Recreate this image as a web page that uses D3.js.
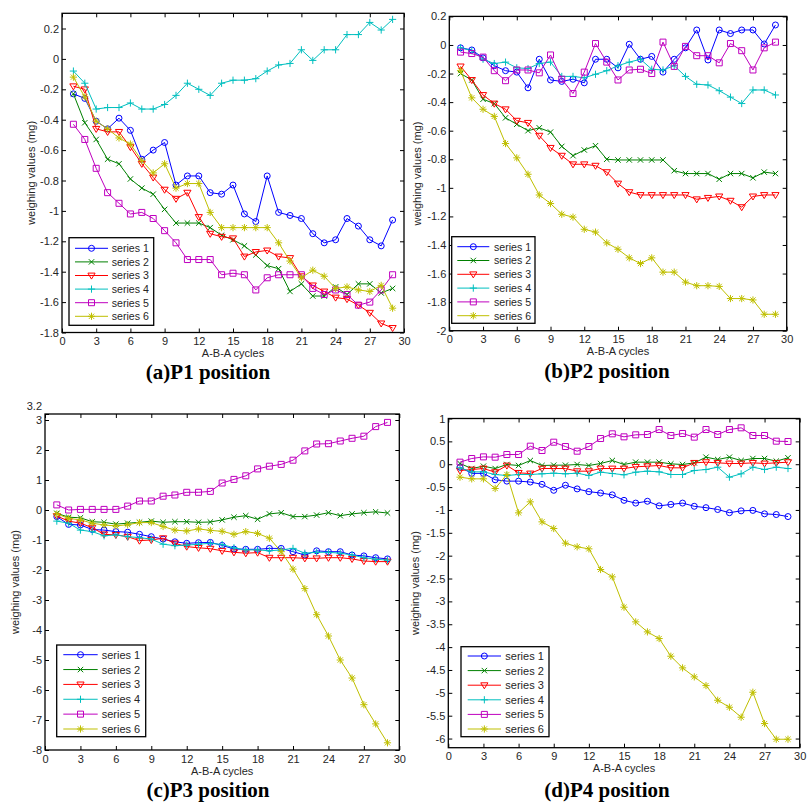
<!DOCTYPE html>
<html><head><meta charset="utf-8">
<script src="https://cdn.jsdelivr.net/npm/d3@7"></script>
<style>body{margin:0;background:#fff}svg{display:block}</style>
</head><body>
<script>
// ---------- data ----------
const cycles = [1,2,3,4,5,6,7,8,9,10,11,12,13,14,15,16,17,18,19,20,21,22,23,24,25,26,27,28,29];
const seriesNames = ["series 1","series 2","series 3","series 4","series 5","series 6"];
const xTickValues = [0,3,6,9,12,15,18,21,24,27,30];

// (a) P1
const p1s1 = [-0.23,-0.26,-0.41,-0.46,-0.39,-0.47,-0.66,-0.60,-0.55,-0.83,-0.77,-0.77,-0.88,-0.89,-0.83,-1.02,-1.07,-0.77,-1.01,-1.03,-1.05,-1.15,-1.21,-1.19,-1.05,-1.10,-1.19,-1.23,-1.06];
const p1s2 = [-0.23,-0.42,-0.53,-0.66,-0.69,-0.79,-0.85,-0.89,-0.99,-1.08,-1.08,-1.08,-1.11,-1.16,-1.19,-1.23,-1.29,-1.36,-1.38,-1.53,-1.48,-1.56,-1.56,-1.50,-1.55,-1.48,-1.48,-1.54,-1.51];
const p1s3 = [-0.18,-0.20,-0.46,-0.48,-0.48,-0.58,-0.69,-0.78,-0.86,-0.92,-0.88,-1.04,-1.15,-1.17,-1.18,-1.30,-1.27,-1.26,-1.30,-1.31,-1.43,-1.49,-1.53,-1.57,-1.58,-1.62,-1.67,-1.74,-1.77];
const p1s4 = [-0.08,-0.16,-0.33,-0.32,-0.32,-0.29,-0.33,-0.33,-0.30,-0.24,-0.16,-0.20,-0.24,-0.16,-0.14,-0.14,-0.13,-0.08,-0.04,-0.03,0.06,-0.01,0.06,0.06,0.16,0.16,0.24,0.19,0.26];
const p1s5 = [-0.43,-0.53,-0.72,-0.88,-0.95,-1.02,-1.01,-1.05,-1.13,-1.21,-1.32,-1.32,-1.32,-1.42,-1.41,-1.42,-1.52,-1.44,-1.42,-1.42,-1.42,-1.51,-1.55,-1.52,-1.55,-1.62,-1.60,-1.52,-1.42];
const p1s6 = [-0.12,-0.25,-0.41,-0.46,-0.52,-0.56,-0.67,-0.75,-0.69,-0.85,-0.82,-0.82,-1.01,-1.11,-1.11,-1.11,-1.11,-1.11,-1.21,-1.33,-1.44,-1.39,-1.43,-1.51,-1.50,-1.52,-1.53,-1.49,-1.64];
const p1YTicks = [-1.8,-1.6,-1.4,-1.2,-1,-0.8,-0.6,-0.4,-0.2,0,0.2];

// (b) P2
const p2s1 = [-0.02,-0.035,-0.09,-0.145,-0.18,-0.19,-0.30,-0.10,-0.245,-0.255,-0.24,-0.265,-0.10,-0.10,-0.16,0.005,-0.10,-0.08,-0.19,-0.10,-0.02,0.105,-0.105,0.105,0.08,0.105,0.105,0.007,0.14];
const p2s2 = [-0.20,-0.245,-0.38,-0.41,-0.51,-0.555,-0.60,-0.58,-0.61,-0.71,-0.775,-0.735,-0.705,-0.80,-0.805,-0.805,-0.805,-0.805,-0.805,-0.88,-0.90,-0.90,-0.90,-0.94,-0.90,-0.90,-0.93,-0.89,-0.90];
const p2s3 = [-0.15,-0.245,-0.35,-0.41,-0.45,-0.53,-0.545,-0.635,-0.72,-0.775,-0.835,-0.835,-0.845,-0.89,-0.97,-1.03,-1.05,-1.05,-1.05,-1.05,-1.05,-1.08,-1.07,-1.06,-1.09,-1.135,-1.06,-1.05,-1.05];
const p2s4 = [-0.02,-0.04,-0.10,-0.13,-0.12,-0.16,-0.165,-0.13,-0.12,-0.22,-0.22,-0.23,-0.205,-0.18,-0.145,-0.12,-0.10,-0.17,-0.175,-0.145,-0.22,-0.275,-0.28,-0.32,-0.365,-0.41,-0.315,-0.315,-0.35];
const p2s5 = [-0.05,-0.06,-0.085,-0.18,-0.25,-0.175,-0.175,-0.195,-0.07,-0.24,-0.34,-0.19,0.01,-0.12,-0.245,-0.175,-0.17,-0.20,0.02,-0.15,-0.01,-0.075,-0.075,-0.125,0.01,-0.04,-0.175,-0.02,0.02];
const p2s6 = [-0.18,-0.37,-0.45,-0.50,-0.69,-0.79,-0.905,-1.05,-1.11,-1.185,-1.205,-1.29,-1.31,-1.385,-1.43,-1.49,-1.53,-1.49,-1.59,-1.59,-1.66,-1.685,-1.685,-1.69,-1.775,-1.775,-1.785,-1.885,-1.885];
const p2YTicks = [-2,-1.8,-1.6,-1.4,-1.2,-1,-0.8,-0.6,-0.4,-0.2,0,0.2];

// (c) P3
const p3s1 = [-0.22,-0.48,-0.50,-0.65,-0.67,-0.72,-0.74,-0.81,-0.89,-0.97,-1.06,-1.11,-1.09,-1.08,-1.18,-1.30,-1.31,-1.31,-1.28,-1.28,-1.39,-1.50,-1.36,-1.39,-1.39,-1.50,-1.53,-1.59,-1.63];
const p3s2 = [-0.11,-0.24,-0.26,-0.39,-0.41,-0.47,-0.44,-0.41,-0.37,-0.41,-0.39,-0.39,-0.41,-0.40,-0.33,-0.24,-0.19,-0.31,-0.13,-0.09,-0.22,-0.22,-0.17,-0.09,-0.19,-0.13,-0.09,-0.06,-0.10];
const p3s3 = [-0.20,-0.37,-0.44,-0.59,-0.81,-0.83,-0.89,-1.02,-1.00,-0.94,-1.11,-1.22,-1.26,-1.29,-1.36,-1.41,-1.44,-1.42,-1.59,-1.59,-1.59,-1.61,-1.61,-1.59,-1.59,-1.63,-1.70,-1.72,-1.72];
const p3s4 = [-0.37,-0.44,-0.67,-0.72,-0.86,-0.83,-0.89,-0.92,-0.97,-1.14,-1.19,-1.17,-1.14,-1.11,-1.15,-1.26,-1.33,-1.33,-1.36,-1.33,-1.28,-1.44,-1.41,-1.41,-1.44,-1.50,-1.59,-1.64,-1.67];
const p3s5 = [0.17,0.00,0.02,0.02,0.02,0.02,0.13,0.30,0.30,0.46,0.50,0.59,0.59,0.62,0.90,1.02,1.14,1.37,1.46,1.52,1.66,1.97,2.20,2.21,2.30,2.39,2.46,2.78,2.92];
const p3s6 = [-0.13,-0.28,-0.33,-0.44,-0.50,-0.53,-0.49,-0.42,-0.42,-0.55,-0.67,-0.70,-0.63,-0.68,-0.71,-0.81,-0.72,-0.78,-0.94,-1.39,-1.97,-2.62,-3.49,-4.20,-5.00,-5.60,-6.49,-7.13,-7.76];
const p3YTicks = [-8,-7,-6,-5,-4,-3,-2,-1,0,1,2,3,3.2];

// (d) P4
const p4s1 = [-0.065,-0.20,-0.20,-0.34,-0.37,-0.37,-0.39,-0.44,-0.57,-0.46,-0.54,-0.60,-0.63,-0.67,-0.79,-0.85,-0.81,-0.91,-0.88,-0.85,-0.92,-0.95,-0.99,-1.06,-1.02,-1.01,-1.085,-1.10,-1.145];
const p4s2 = [0.016,-0.094,-0.043,-0.094,-0.006,-0.028,0.081,-0.028,-0.021,-0.021,-0.006,-0.028,0.016,0.081,-0.006,0.045,0.045,0.045,0.008,-0.006,0.03,0.154,0.103,0.154,0.081,0.125,0.125,0.067,0.14];
const p4s3 = [-0.138,-0.116,-0.094,-0.174,-0.028,-0.189,-0.203,-0.094,-0.094,-0.094,-0.152,-0.152,-0.094,-0.094,-0.094,-0.057,-0.043,-0.028,-0.079,-0.079,0.03,0.045,0.03,0.016,0.016,0.03,0.016,0.03,0.045];
const p4s4 = [-0.079,-0.167,-0.167,-0.225,-0.247,-0.225,-0.225,-0.21,-0.196,-0.21,-0.196,-0.247,-0.174,-0.203,-0.232,-0.174,-0.152,-0.167,-0.225,-0.225,-0.138,-0.116,-0.065,-0.283,-0.21,-0.065,-0.116,-0.065,-0.094];
const p4s5 = [0.045,0.125,0.161,0.154,0.212,0.212,0.395,0.30,0.482,0.387,0.285,0.387,0.562,0.665,0.599,0.643,0.65,0.759,0.628,0.672,0.592,0.759,0.65,0.759,0.796,0.628,0.628,0.504,0.497];
const p4s6 = [-0.283,-0.32,-0.32,-0.531,-0.225,-1.064,-0.823,-1.26,-1.406,-1.727,-1.807,-1.851,-2.303,-2.464,-3.127,-3.448,-3.667,-3.813,-4.199,-4.454,-4.651,-4.841,-5.162,-5.315,-5.533,-4.987,-5.672,-6.015,-6.015];
const p4YTicks = [-6,-5.5,-5,-4.5,-4,-3.5,-3,-2.5,-2,-1.5,-1,-0.5,0,0.5,1];

const panelTitles = ["(a)P1 position","(b)P2 position","(c)P3 position","(d)P4 position"];
const xLabel = "A-B-A cycles";
const yLabel = "weighing values (mg)";

// ---------- styles / layout ----------
const colors = ["#0000ff","#008000","#ff0000","#00bfbf","#bf00bf","#bfbf00"];
const markers = ["o","x","v","+","s","*"];
const FONT = "'Liberation Sans', Arial, sans-serif";
const TXT = "#262626";

const panels = [
  {series:[p1s1,p1s2,p1s3,p1s4,p1s5,p1s6], yTicks:p1YTicks, yDom:[-1.8,0.3],
   box:{l:62,r:404,t:13.3,b:332.5}, ylabX:31, title:{x:208,y:379},
   leg:{x:69,y:237.7,w:84.7,h:87.6,first:248.3,step:13.6,l1:75,l2:108,tx:111.7,fs:10.6}},
  {series:[p2s1,p2s2,p2s3,p2s4,p2s5,p2s6], yTicks:p2YTicks, yDom:[-2,0.2],
   box:{l:449.3,r:786.7,t:16.4,b:330.7}, ylabX:417, title:{x:607,y:378},
   leg:{x:451.7,y:236.7,w:83.3,h:86.6,first:246.7,step:13.8,l1:457.3,l2:489.3,tx:494,fs:10.6}},
  {series:[p3s1,p3s2,p3s3,p3s4,p3s5,p3s6], yTicks:p3YTicks, yDom:[-8,3.2],
   box:{l:45,r:399.3,t:414,b:750}, ylabX:15, title:{x:208,y:796.5},
   leg:{x:56.7,y:645,w:89,h:91.7,first:654.7,step:14.86,l1:63.3,l2:97.7,tx:101.7,fs:11}},
  {series:[p4s1,p4s2,p4s3,p4s4,p4s5,p4s6], yTicks:p4YTicks, yDom:[-6.2,1],
   box:{l:448.3,r:799.7,t:418.5,b:747.7}, ylabX:415, title:{x:607,y:797},
   leg:{x:461,y:646.7,w:88,h:90,first:656,step:14.6,l1:467.7,l2:501,tx:505.3,fs:11}}
];

function markerPath(m){
  switch(m){
    case "o": return "M3,0A3,3 0 1 1 -3,0A3,3 0 1 1 3,0Z";
    case "x": return "M-2.7,-2.7L2.7,2.7M-2.7,2.7L2.7,-2.7";
    case "v": return "M-3.6,-2.4L3.6,-2.4L0,3.6Z";
    case "+": return "M-3.6,0H3.6M0,-3.6V3.6";
    case "s": return "M-3,-3H3V3H-3Z";
    case "*": return "M-3.6,0H3.6M0,-3.6V3.6M-2.6,-2.6L2.6,2.6M-2.6,2.6L2.6,-2.6";
  }
}
const fmt = v => String(+v.toFixed(2));

const svg = d3.select("body").append("svg").attr("width",808).attr("height",803)
  .style("background","#fff");

panels.forEach((p,pi)=>{
  const b = p.box;
  const x = d3.scaleLinear().domain([0,30]).range([b.l,b.r]);
  const y = d3.scaleLinear().domain(p.yDom).range([b.b,b.t]);
  const g = svg.append("g");

  const styleAxis = sel => {
    sel.select(".domain").remove();
    sel.selectAll("line").attr("stroke","#000").attr("stroke-width",1);
    sel.selectAll("text").attr("fill",TXT).style("font-family",FONT).style("font-size","11px");
  };
  g.append("g").attr("transform",`translate(0,${b.b})`)
    .call(d3.axisBottom(x).tickValues(xTickValues).tickSize(-4).tickPadding(5).tickFormat(fmt)).call(styleAxis);
  g.append("g").attr("transform",`translate(0,${b.t})`)
    .call(d3.axisTop(x).tickValues(xTickValues).tickSize(-4).tickFormat(()=>"")).call(styleAxis);
  const ya = g.append("g").attr("transform",`translate(${b.l},0)`)
    .call(d3.axisLeft(y).tickValues(p.yTicks).tickSize(-4).tickPadding(3).tickFormat(fmt)).call(styleAxis);
  // limit label crowding the "3" label: lift it just above so both stay readable
  ya.selectAll(".tick").filter(d => Math.abs(d - 3.2) < 1e-9).select("text").attr("dy","-0.38em");
  g.append("g").attr("transform",`translate(${b.r},0)`)
    .call(d3.axisRight(y).tickValues(p.yTicks).tickSize(-4).tickFormat(()=>"")).call(styleAxis);

  const line = d3.line().x((d,i)=>x(cycles[i])).y(d=>y(d));
  p.series.forEach((s,si)=>{
    const sg = g.append("g");
    sg.append("path").attr("d",line(s)).attr("fill","none")
      .attr("stroke",colors[si]).attr("stroke-width",1);
    sg.selectAll("path.m").data(s).join("path").attr("class","m")
      .attr("d",markerPath(markers[si]))
      .attr("transform",(d,i)=>`translate(${x(cycles[i])},${y(d)})`)
      .attr("fill","none").attr("stroke",colors[si]).attr("stroke-width",1);
  });

  g.append("rect").attr("x",b.l).attr("y",b.t).attr("width",b.r-b.l).attr("height",b.b-b.t)
    .attr("fill","none").attr("stroke","#000").attr("stroke-width",1.3);

  g.append("text").attr("x",(b.l+b.r)/2).attr("y",b.b+24.5).attr("text-anchor","middle")
    .style("font-family",FONT).style("font-size","11px").attr("fill",TXT).text(xLabel);
  g.append("text").attr("transform",`translate(${p.ylabX},${(b.t+b.b)/2}) rotate(-90)`)
    .attr("dy","0.35em").attr("text-anchor","middle")
    .style("font-family",FONT).style("font-size","11px").attr("fill",TXT).text(yLabel);
  g.append("text").attr("x",p.title.x).attr("y",p.title.y).attr("text-anchor","middle")
    .style("font-family","'Liberation Serif','Times New Roman',serif").style("font-size","21px")
    .style("font-weight","bold").attr("fill","#000").text(panelTitles[pi]);

  const L = p.leg;
  const lg = g.append("g");
  lg.append("rect").attr("x",L.x).attr("y",L.y).attr("width",L.w).attr("height",L.h)
    .attr("fill","#fff").attr("stroke","#000").attr("stroke-width",1.3);
  seriesNames.forEach((n,si)=>{
    const yy = L.first + si*L.step;
    lg.append("line").attr("x1",L.l1).attr("x2",L.l2).attr("y1",yy).attr("y2",yy)
      .attr("stroke",colors[si]).attr("stroke-width",1);
    lg.append("path").attr("d",markerPath(markers[si]))
      .attr("transform",`translate(${(L.l1+L.l2)/2},${yy})`)
      .attr("fill","none").attr("stroke",colors[si]).attr("stroke-width",1);
    lg.append("text").attr("x",L.tx).attr("y",yy).attr("dy","0.36em")
      .style("font-family",FONT).style("font-size",L.fs+"px").attr("fill",TXT).text(n);
  });
});
</script>
</body></html>
